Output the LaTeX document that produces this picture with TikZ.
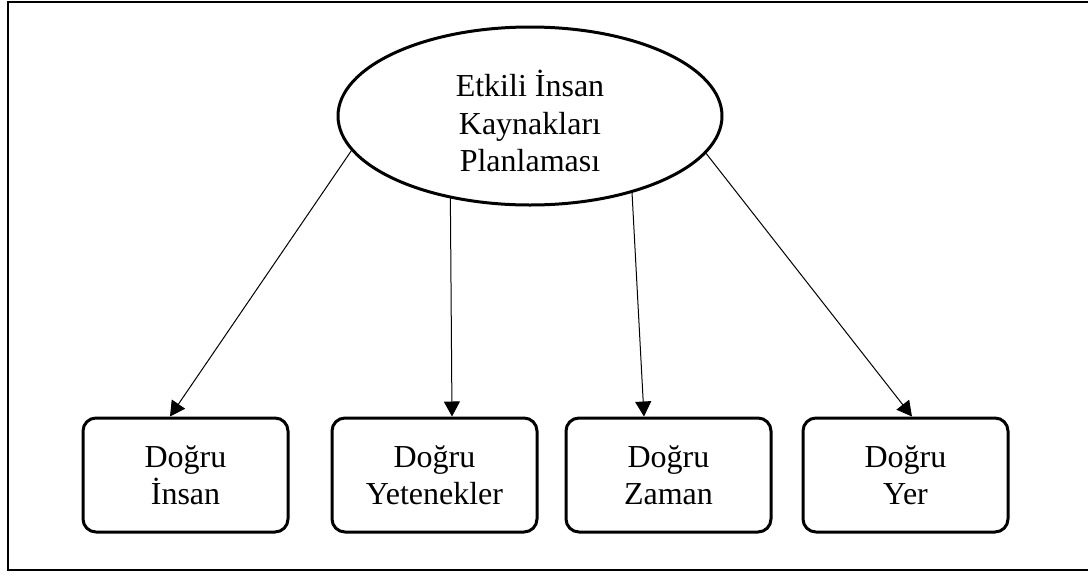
\documentclass[tikz,border=0pt]{standalone}
\usepackage{fontspec}
\setmainfont{Liberation Serif}
\usetikzlibrary{arrows.meta,shapes.geometric}
\begin{document}
\begin{tikzpicture}[x=0.5pt,y=-0.5pt,
  every node/.style={font=\fontsize{16pt}{18.6pt}\selectfont, align=center, inner sep=0pt},
  goal/.style={ellipse, draw, line width=1.5pt, minimum width=192pt, minimum height=89pt},
  factor/.style={draw, rounded corners=6.5pt, line width=1.5pt, minimum width=102.5pt, minimum height=57pt},
  link/.style={line width=0.5pt, -{Triangle[length=7.5pt,width=8pt]}},
  frame/.style={line width=1.1pt}]
\useasboundingbox (0,0) rectangle (1088,574);

% outer frame (open on the right)
\coordinate (fa) at (1090,2);
\coordinate (fb) at (8,2);
\coordinate (fc) at (8,570);
\coordinate (fd) at (1090,570);
\draw[frame] (fa) -- (fb) -- (fc) -- (fd);

% central goal
\node[goal] (ell) at (530,116) {};
\node (ellt) at (530,121) {Etkili İnsan\\Kaynakları\\Planlaması};

% four factors
\node[factor] (b1) at (185.5,475) {};
\node[factor] (b2) at (434.5,475) {};
\node[factor] (b3) at (668.5,475) {};
\node[factor] (b4) at (905.5,475) {};
\node (t1) at (b1) {Doğru\\İnsan};
\node (t2) at (b2) {Doğru\\Yetenekler};
\node (t3) at (b3) {Doğru\\Zaman};
\node (t4) at (b4) {Doğru\\Yer};

% connectors
\draw[link] (ell.191.7) -- ([xshift=-7.75pt]b1.north);
\draw[link] (ell.226.2) -- ([xshift=8.75pt]b2.north);
\draw[link] (ell.323.5) -- ([xshift=-12.25pt]b3.north);
\draw[link] (ell.348) -- ([xshift=3.25pt]b4.north);
\end{tikzpicture}
\end{document}
